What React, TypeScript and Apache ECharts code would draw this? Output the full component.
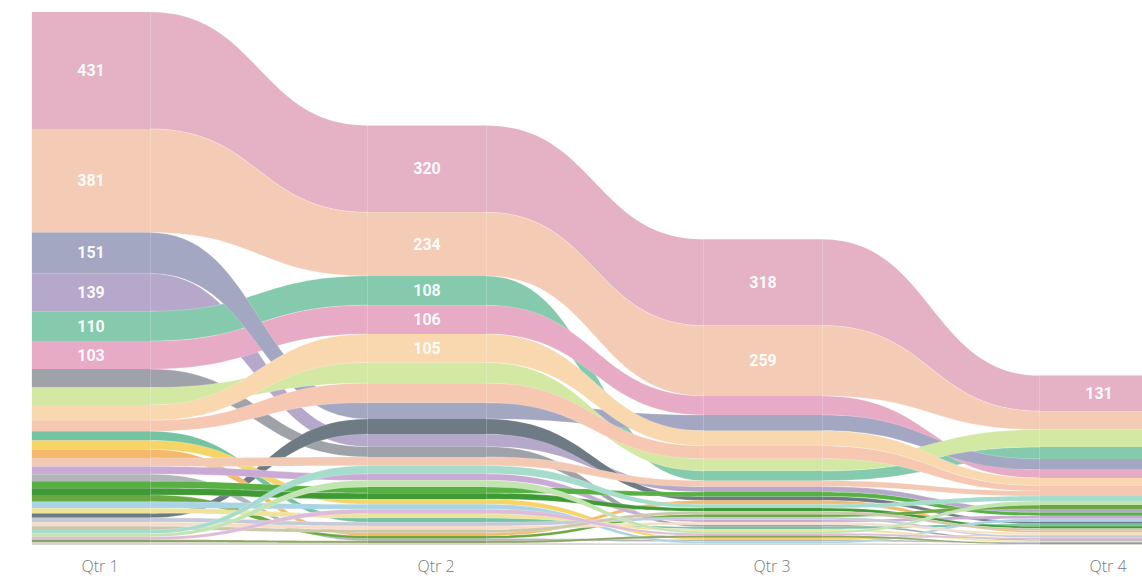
import React, { useEffect, useRef } from 'react';
import * as echarts from 'echarts';

const quarters = ['Qtr 1', 'Qtr 2', 'Qtr 3', 'Qtr 4'];

// series (drawing order: later ones drawn on top)
const names = [
  'A', 'B', 'J', 'Y', 'D', 'E', 'C', 'G', 'F', 'H',
  'I', 'Z', 'T', 'U', 'K', 'M', 'X', 'O1', 'O2', 'O3',
  'R', 'Q', 'W', 'V', 'Xt', 'L', 'N', 'P', 'S', 'AA',
];
const colors = [
  '#e4b2c4', '#f4cbb5', '#b6a8cb', '#9fa2a9', '#86caae', '#e8abc5', '#a3a7c1', '#d3e8a3', '#f9d8b0', '#f6c8b1',
  '#6f7b84', '#74c3a2', '#f6d466', '#f5b96c', '#f4c9b3', '#c9aad5', '#b3b5ba', '#57b043', '#3f9a35', '#6aa842',
  '#a9d4e3', '#efe39c', '#c4cbd8', '#f8dcc9', '#cbc7a9', '#a6dccb', '#c2e4b0', '#ddbcd9', '#8ea35f', '#d6d6d1',
];
const qtr1 = [431, 381, 139, 68, 110, 103, 151, 64, 57, 40, 17, 34, 33, 32, 31, 28, 26, 26, 25, 25, 24, 18, 16, 15, 14, 13, 12, 11, 10, 9];
const qtr2 = [320, 234, 46, 38, 108, 106, 60, 76, 105, 72, 56, 15, 19, 11, 32, 24, 9, 23, 22, 10, 18, 16, 14, 13, 12, 30, 24, 17, 8, 7];
const qtr3 = [318, 259, 20, 8, 36, 70, 58, 45, 56, 47, 15, 8, 7, 14, 22, 9, 7, 16, 12, 10, 7, 8, 10, 9, 11, 14, 8, 8, 8, 6];
const qtr4 = [131, 68, 13, 5, 44, 30, 40, 64, 28, 20, 9, 9, 6, 7, 19, 11, 4, 12, 8, 14, 10, 5, 6, 7, 8, 18, 15, 6, 4, 3];

const LABEL_MIN = 100;

function buildStacks() {
  const cols = [qtr1, qtr2, qtr3, qtr4];
  const bottoms: number[][] = names.map(() => [0, 0, 0, 0]);
  const tops: number[][] = names.map(() => [0, 0, 0, 0]);
  cols.forEach((vals, q) => {
    const idx = vals.map((_, i) => i);
    idx.sort((a, b) => (vals[a] - vals[b]) || (b - a));
    let acc = 0;
    idx.forEach((i) => {
      bottoms[i][q] = acc;
      acc += vals[i];
      tops[i][q] = acc;
    });
  });
  return { cols, bottoms, tops };
}

export default function App() {
  const ref = useRef<HTMLDivElement>(null);
  useEffect(() => {
    if (!ref.current) return;
    const chart = echarts.init(ref.current, undefined, { renderer: 'svg' });
    const { cols, bottoms, tops } = buildStacks();

    const series = names.map((name, k) => {
      const data = quarters.map((_, q) => [
        q,
        bottoms[k][q],
        tops[k][q],
        q < 3 ? bottoms[k][q + 1] : -1,
        q < 3 ? tops[k][q + 1] : -1,
        cols[q][k],
      ]);
      return {
        type: 'custom',
        name,
        data,
        encode: { x: 0, y: [1, 2] },
        clip: false,
        renderItem: (params: any, api: any) => {
          const q = api.value(0);
          const b = api.value(1);
          const t = api.value(2);
          const v = api.value(5);
          const p0 = api.coord([0, 0]);
          const p1 = api.coord([1, 0]);
          const step = p1[0] - p0[0];
          const hw = step * 0.176;
          const pB = api.coord([q, b]);
          const pT = api.coord([q, t]);
          const cx = pB[0];
          const children: any[] = [];
          if (q < 3) {
            const nb = api.value(3);
            const nt = api.value(4);
            const nB = api.coord([q + 1, nb]);
            const nT = api.coord([q + 1, nt]);
            const x0 = cx + hw;
            const x1 = nB[0] - hw;
            const xm = (x0 + x1) / 2;
            const d =
              `M${x0},${pT[1]} C${xm},${pT[1]} ${xm},${nT[1]} ${x1},${nT[1]} ` +
              `L${x1},${nB[1]} C${xm},${nB[1]} ${xm},${pB[1]} ${x0},${pB[1]} Z`;
            children.push({
              type: 'path',
              shape: { pathData: d },
              style: { fill: colors[k], stroke: 'rgba(255,255,255,0.25)', lineWidth: 0.8 },
            });
          }
          children.push({
            type: 'rect',
            shape: { x: cx - hw, y: pT[1], width: hw * 2, height: pB[1] - pT[1] },
            style: { fill: colors[k] },
          });
          if (v >= LABEL_MIN) {
            children.push({
              type: 'text',
              x: cx,
              y: (pT[1] + pB[1]) / 2,
              style: {
                text: String(v),
                fill: 'rgba(255,255,255,0.95)',
                fontSize: 16,
                fontWeight: 'bold',
                fontFamily: 'Roboto',
                align: 'center',
                verticalAlign: 'middle',
              },
            });
          }
          return { type: 'group', children };
        },
      };
    });

    chart.setOption({
      animation: false,
      grid: { left: 91, right: 43, top: 0, bottom: 32, containLabel: false },
      xAxis: {
        type: 'category',
        data: quarters,
        boundaryGap: false,
        axisLine: { show: false },
        axisTick: { show: false },
        splitLine: { show: false },
        axisLabel: {
          color: '#7a7a7a',
          fontSize: 16,
          fontFamily: 'Open Sans',
          fontWeight: 300,
          margin: 13,
          padding: [0, 0, 0, 18],
        },
      },
      yAxis: { type: 'value', min: 0, max: 2007, show: false },
      series,
    });
    return () => chart.dispose();
  }, []);
  return (
    <div
      ref={ref}
      style={{ position: 'fixed', left: 0, top: 0, width: 1142, height: 577, background: '#ffffff' }}
    />
  );
}
